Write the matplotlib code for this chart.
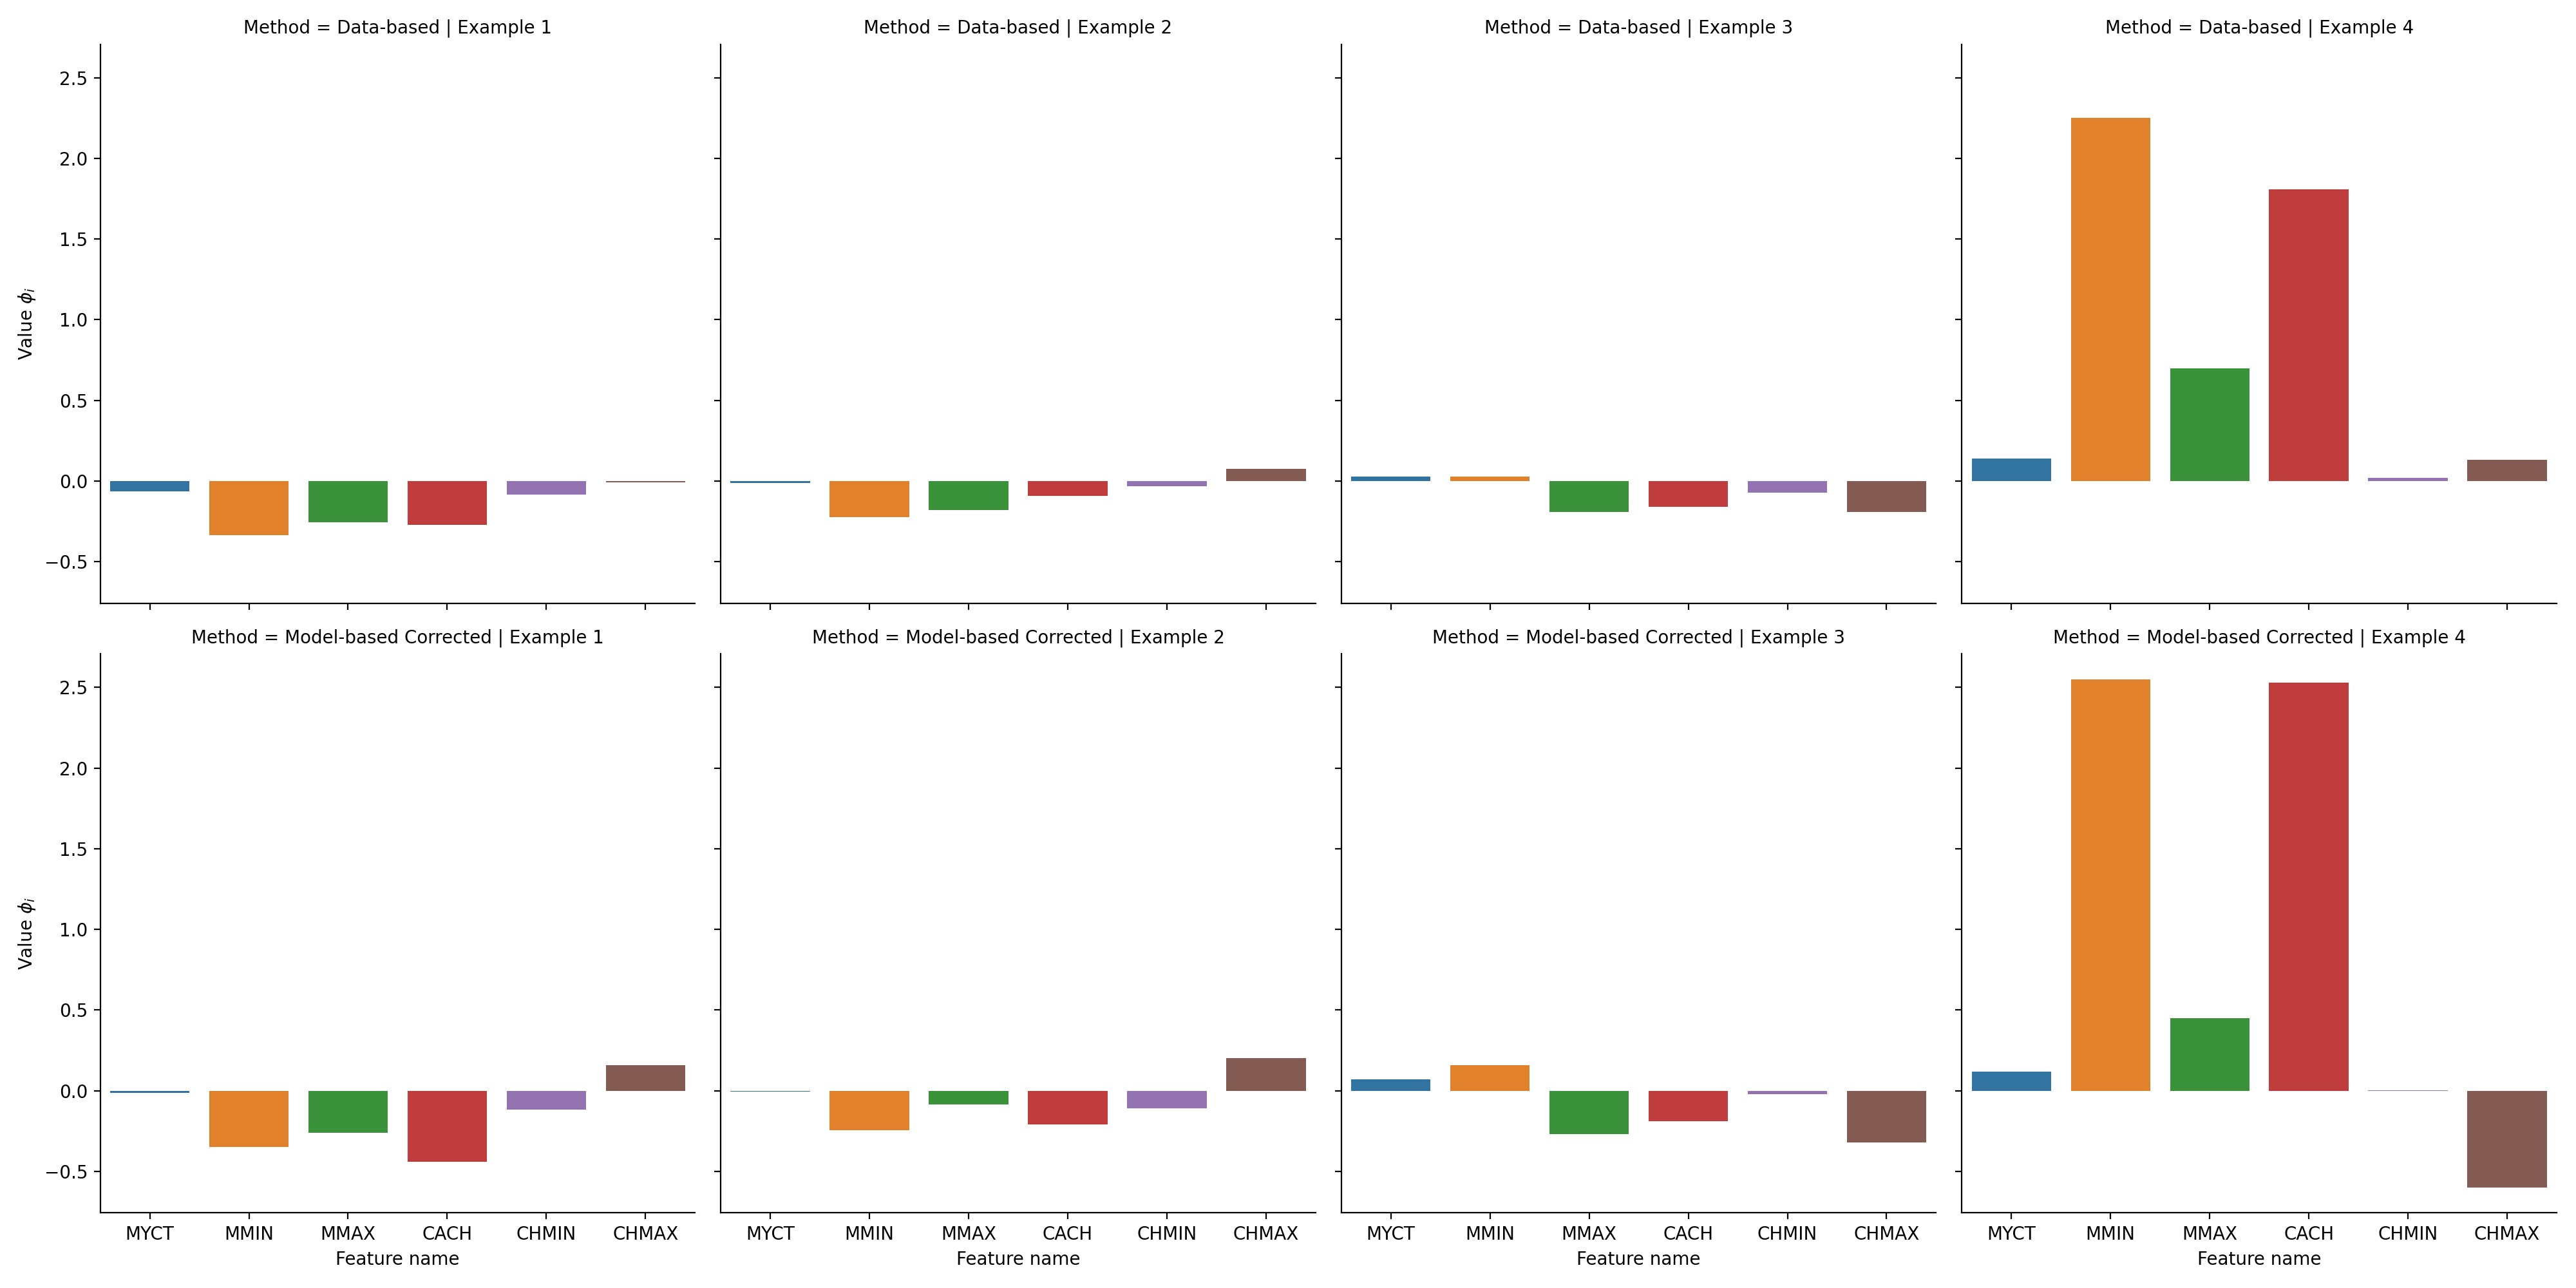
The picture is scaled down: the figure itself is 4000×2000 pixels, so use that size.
import matplotlib
matplotlib.use("Agg")
import matplotlib.pyplot as plt
import pandas as pd
import seaborn as sns

features = ['MYCT', 'MMIN', 'MMAX', 'CACH', 'CHMIN', 'CHMAX']
examples = ['Example 1', 'Example 2', 'Example 3', 'Example 4']
methods = ['Data-based', 'Model-based Corrected']

# values read per example, in feature order
data_based = [
    [-0.065, -0.336, -0.256, -0.273, -0.082, -0.008],
    [-0.011, -0.223, -0.178, -0.09, -0.031, 0.076],
    [0.03, 0.03, -0.19, -0.16, -0.07, -0.19],
    [0.14, 2.25, 0.70, 1.81, 0.02, 0.13],
]
model_based = [
    [-0.012, -0.348, -0.26, -0.439, -0.116, 0.16],
    [-0.006, -0.244, -0.084, -0.208, -0.108, 0.204],
    [0.07, 0.16, -0.27, -0.19, -0.02, -0.32],
    [0.12, 2.55, 0.45, 2.53, 0.003, -0.60],
]

rows = []
for method, table in zip(methods, [data_based, model_based]):
    for ex, vals in zip(examples, table):
        for f, v in zip(features, vals):
            rows.append({'Method': method, 'Example': ex, 'Feature name': f, 'Value': v})
df = pd.DataFrame(rows)

g = sns.catplot(data=df, x='Feature name', y='Value', hue='Feature name',
                col='Example', row='Method', kind='bar', legend=False,
                height=5, aspect=1, errorbar=None, palette='tab10', saturation=0.75)
g.set_titles("{row_var} = {row_name} | {col_name}")
g.set_axis_labels('Feature name', r'Value $\phi_i$')

plt.savefig('out.png', dpi=200)
